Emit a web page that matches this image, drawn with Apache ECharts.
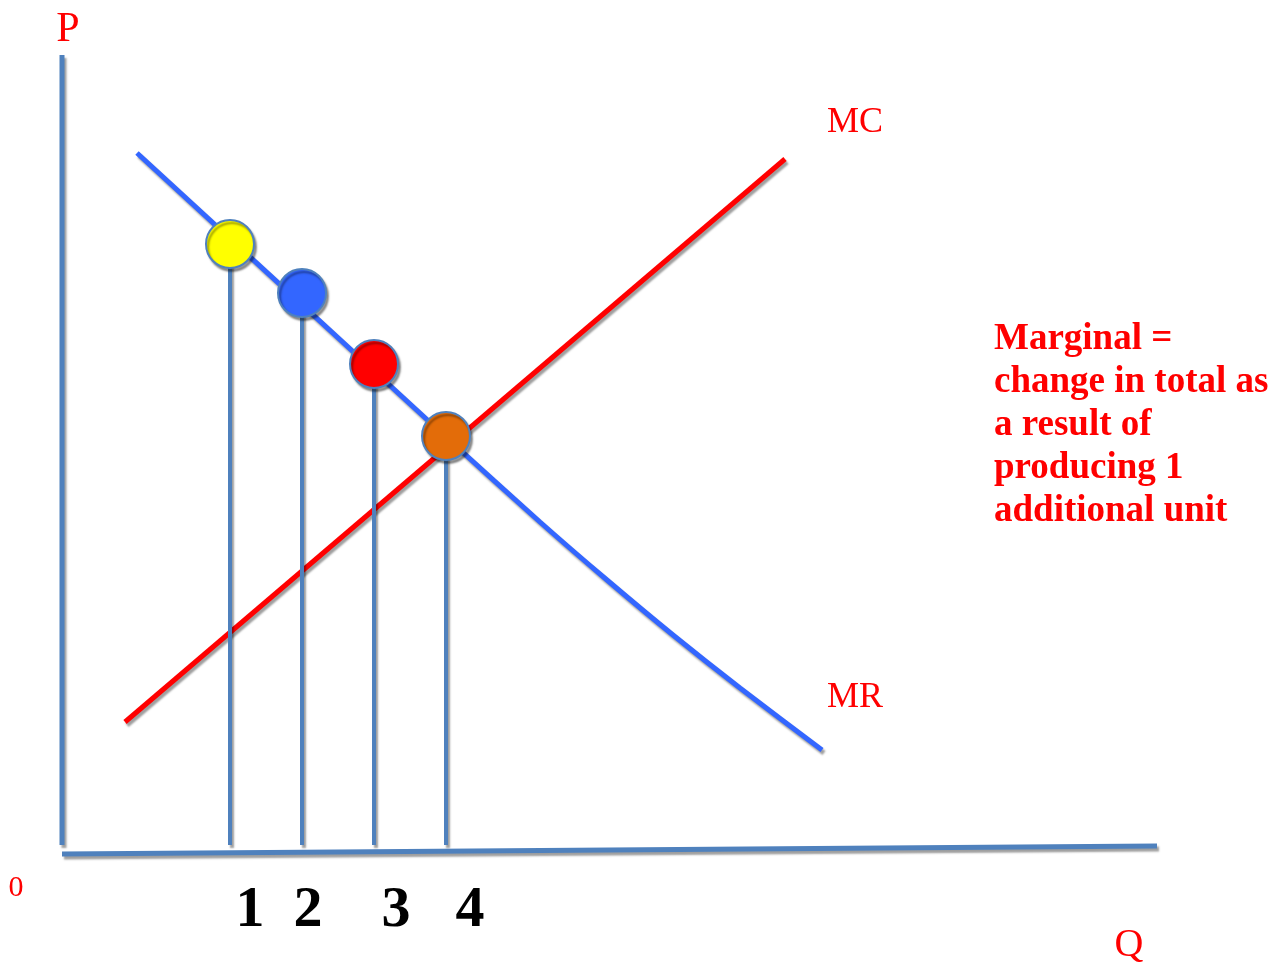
<!DOCTYPE html>
<html>
<head>
<meta charset="utf-8">
<script src="https://cdn.jsdelivr.net/npm/echarts@6/dist/echarts.min.js"></script>
<style>
html,body{margin:0;padding:0;background:#fff;}
#chart{width:1278px;height:965px;}
</style>
</head>
<body>
<div id="chart"></div>
<script>
// ---- data (Q, P units) ----
var mrCurve = [[7.5,69.9],[38.4,41.5],[47.8,33.0],[54.5,27.2],[61.1,21.7],[67.8,16.4],[76.0,10.2]];
var mcLine = [[6.3,13.0],[72.3,69.3]];
var pAxisLine = [[0,79.7],[0,0.7]];
var qAxisLine = [[0,-0.2],[109.5,0.6]];
var dotQ = [16.8, 24.0, 31.2, 38.4];
var dotP = [60.8, 55.9, 48.8, 41.6];
var dotColors = ['#ffff00', '#3366ff', '#ff0000', '#e36c09'];
var dropBase = 0.7;
var qTickLabels = ['1', '2', '3', '4'];
var noteLines = ['Marginal =', 'change in total as', 'a result of', 'producing 1', 'additional unit'];

var serif = '"Liberation Serif", "Times New Roman", serif';
var shadow = {shadowColor:'rgba(0,0,0,0.38)', shadowBlur:2, shadowOffsetX:2, shadowOffsetY:3};

function lineSeries(data, color, width, z) {
  return {
    type:'line', data:data, symbol:'none', silent:true, z:z,
    lineStyle:Object.assign({color:color, width:width, cap:'butt', opacity:1}, shadow)
  };
}

var series = [];
series.push(lineSeries(pAxisLine, '#4f81bd', 5, 2));
series.push(lineSeries(qAxisLine, '#4f81bd', 5, 2));
series.push(lineSeries(mcLine, '#ff0000', 5, 3));
var mr = lineSeries(mrCurve, '#3366ff', 5, 3);
mr.smooth = 0.2;
series.push(mr);
for (var i = 0; i < dotQ.length; i++) {
  series.push(lineSeries([[dotQ[i], dotP[i]], [dotQ[i], dropBase]], '#4f81bd', 4, 4));
}
series.push({
  type:'scatter', z:6, silent:true, symbol:'circle', symbolSize:48,
  data: dotQ.map(function(q, i){
    return {value:[q, dotP[i]], itemStyle:{color:dotColors[i]}};
  }),
  itemStyle:Object.assign({borderColor:'#4f81bd', borderWidth:2, opacity:1}, shadow)
});

var graphics = [];
function txt(x, y, s, size, color, weight, align) {
  graphics.push({
    type:'text', x:x, y:y, silent:true,
    style:{text:s, fill:color, font:(weight||'normal') + ' ' + size + 'px ' + serif,
           textAlign:align||'left', textVerticalAlign:'middle'}
  });
}
txt(68, 30, 'P', 42, '#ff0000', 'normal', 'center');
txt(827, 123, 'MC', 36, '#ff0000');
txt(827, 698, 'MR', 36, '#ff0000');
txt(16, 888, '0', 30, '#ff0000', 'normal', 'center');
txt(1129, 945, 'Q', 40, '#ff0000', 'normal', 'center');
var labelX = [250, 308, 396, 470];
qTickLabels.forEach(function(s, i){ txt(labelX[i], 911, s, 58, '#000', 'bold', 'center'); });
noteLines.forEach(function(s, i){ txt(994, 339 + i*43, s, 37, '#ff0000', 'bold'); });

var chart = echarts.init(document.getElementById('chart'));
chart.setOption({
  animation:false,
  backgroundColor:'#ffffff',
  grid:{left:0, right:0, top:0, bottom:0},
  xAxis:{type:'value', min:-6.2, max:121.6, show:false},
  yAxis:{type:'value', min:-11.3, max:85.2, show:false},
  series:series,
  graphic:graphics
});
</script>
</body>
</html>
